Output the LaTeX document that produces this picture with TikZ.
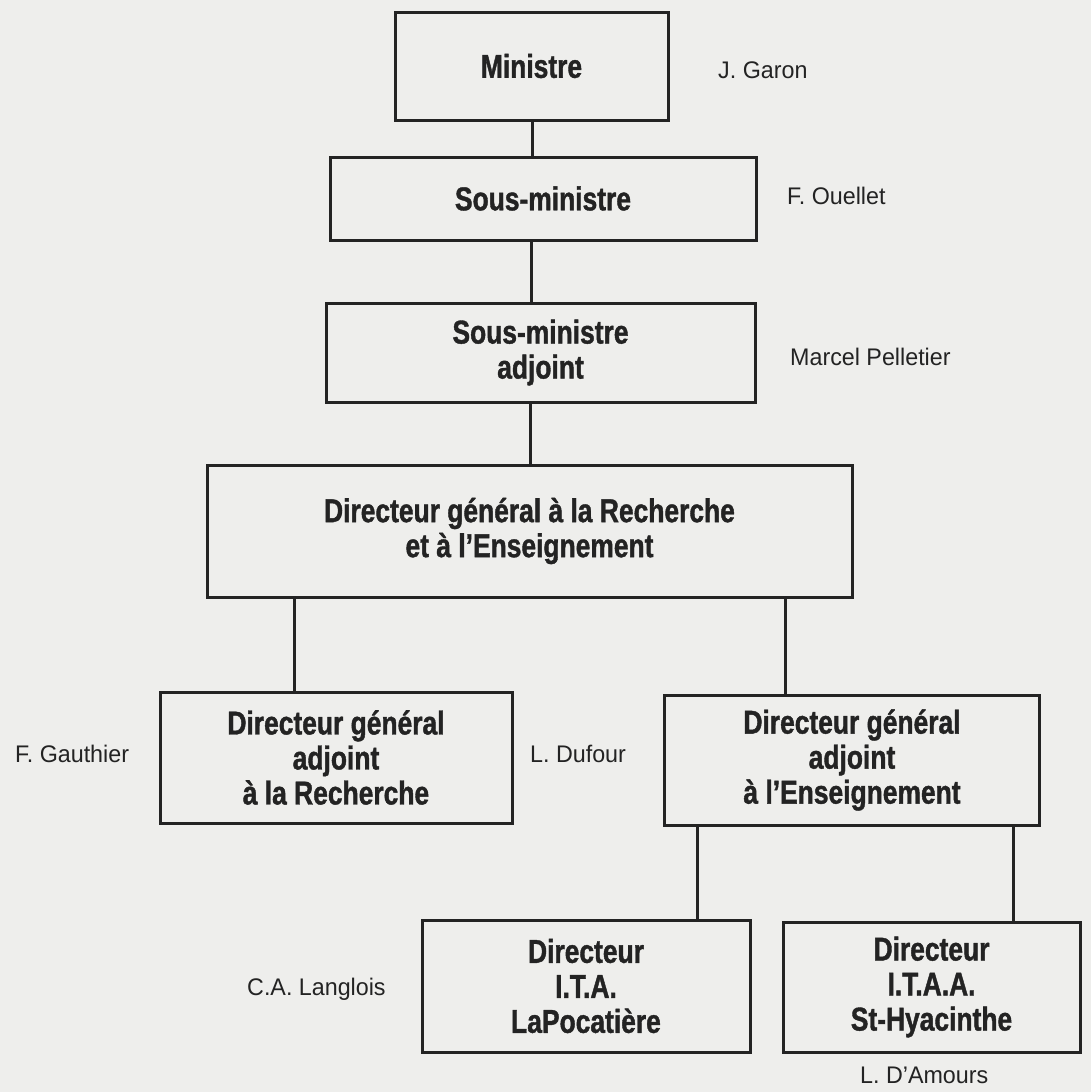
\documentclass[tikz,border=0pt]{standalone}
\usepackage{fontspec}
\setmainfont{Liberation Sans}
\newfontfamily\condbold{Liberation Sans}[FakeStretch=0.8, BoldFeatures={FakeBold=1.2}]
\newfontfamily\namefont{Liberation Sans}[FakeStretch=0.97]
\definecolor{paper}{RGB}{238,238,236}
\definecolor{ink}{RGB}{35,35,35}
\tikzset{
  orgbox/.style={draw=ink, line width=3pt, inner sep=0pt, align=center, text=ink,
    font=\condbold\bfseries\fontsize{33}{35}\selectfont},
  conn/.style={draw=ink, line width=3pt},
  person/.style={text=ink, inner sep=0pt, anchor=base west,
    font=\namefont\fontsize{24}{28}\selectfont}
}
\begin{document}
\begin{tikzpicture}[x=1pt,y=-1pt]
\fill[paper] (0,0) rectangle (1091,1092);
\useasboundingbox (0,0) rectangle (1091,1092);

\node[orgbox, minimum width=273pt, minimum height=108pt] (min) at (531.5,66) {Ministre};
\node[orgbox, minimum width=426pt, minimum height=83pt] (sm) at (543,198.5) {Sous-ministre};
\node[orgbox, minimum width=429pt, minimum height=99pt] (sma) at (540.5,352.5) {Sous-ministre\\adjoint};
\node[orgbox, minimum width=645pt, minimum height=132pt] (dg) at (529.5,531) {Directeur général à la Recherche\\et à l’Enseignement};
\node[orgbox, minimum width=352pt, minimum height=131pt] (dgr) at (336,757.5) {Directeur général\\adjoint\\à la Recherche};
\node[orgbox, minimum width=375pt, minimum height=130pt] (dge) at (852,760) {Directeur général\\adjoint\\à l’Enseignement};
\node[orgbox, minimum width=328pt, minimum height=132pt] (ita) at (586,986) {Directeur\\I.T.A.\\LaPocatière};
\node[orgbox, minimum width=297pt, minimum height=130pt] (itaa) at (931.5,987) {Directeur\\I.T.A.A.\\St-Hyacinthe};

\coordinate (c1) at (532,0);
\coordinate (c2) at (531,0);
\coordinate (c3) at (530,0);
\coordinate (c4) at (294,0);
\coordinate (c5) at (785,0);
\coordinate (c6) at (697,0);
\coordinate (c7) at (1013,0);

\draw[conn] (min.south -| c1) -- (sm.north -| c1);
\draw[conn] (sm.south -| c2) -- (sma.north -| c2);
\draw[conn] (sma.south -| c3) -- (dg.north -| c3);
\draw[conn] (dg.south -| c4) -- (dgr.north -| c4);
\draw[conn] (dg.south -| c5) -- (dge.north -| c5);
\draw[conn] (dge.south -| c6) -- (ita.north -| c6);
\draw[conn] (dge.south -| c7) -- (itaa.north -| c7);

\node[person] (ngaron) at (718,78) {J. Garon};
\node[person] (nouellet) at (787,204) {F. Ouellet};
\node[person] (npelletier) at (790,365) {Marcel Pelletier};
\node[person] (ngauthier) at (15,762) {F. Gauthier};
\node[person] (ndufour) at (530,762) {L. Dufour};
\node[person] (nlanglois) at (247,995) {C.A. Langlois};
\node[person] (namours) at (860,1083) {L. D’Amours};
\end{tikzpicture}
\end{document}
